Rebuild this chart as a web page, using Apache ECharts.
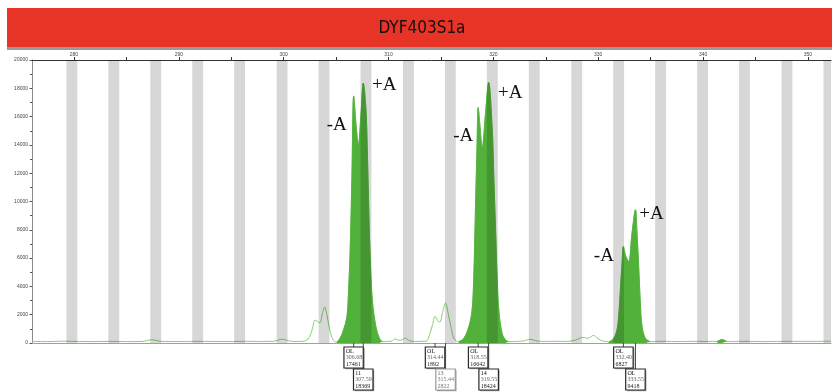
<!DOCTYPE html>
<html>
<head>
<meta charset="utf-8">
<script src="https://cdn.jsdelivr.net/npm/echarts@6/dist/echarts.min.js"></script>
<style>
  html, body { margin: 0; padding: 0; background: #fff; }
  #chart { width: 832px; height: 392px; }
</style>
</head>
<body>
<div id="chart"></div>
<script>
// ---- Electropherogram trace for marker DYF403S1a: [size (bp), signal (RFU)] ----
const noiseStart = [[276.0,120],[277.5,100],[279,130],[280.5,110],[282,100],[283.5,120],[285,100],[286.5,110],[287.4,230],[288.3,120],[290,100],[291.5,120],[293,110],[294.5,100],[296,120],[297.5,110],[299,120],[299.9,270],[300.6,130],[301.5,110]];
const smallPeaksA = [[302.0,140],[302.4,350],[302.7,900],[303.0,1620],[303.2,1520],[303.45,1430],[303.7,2100],[303.9,2540],[304.15,1900],[304.4,900],[304.65,300],[304.85,120]];
const mainPeakA = [[305.08,70],[305.39,350],[305.71,920],[306.03,1840],[306.18,3530],[306.35,6780],[306.51,11730],[306.68,17461],[306.92,15290],[307.12,13990],[307.38,16250],[307.59,18369],[307.85,16470],[308.0,12930],[308.16,8200],[308.33,4660],[308.48,2830],[308.8,1130],[309.12,350],[309.4,90]];
const noiseMid1 = [[309.8,110],[310.3,140],[310.64,290],[311.0,190],[311.3,230],[311.6,340],[312.0,160],[312.6,110],[313.2,120]];
const smallPeaksB = [[313.6,130],[313.95,680],[314.2,1300],[314.44,1892],[314.68,1580],[314.9,1480],[315.15,2150],[315.44,2822],[315.7,2050],[315.95,1150],[316.22,350],[316.5,120]];
const mainPeakB = [[316.7,90],[317.18,330],[317.66,1150],[317.97,2330],[318.13,4690],[318.29,9400],[318.45,14130],[318.55,16642],[318.73,15290],[318.93,13760],[319.25,16230],[319.55,18424],[319.88,15290],[320.04,11750],[320.2,8220],[320.36,4690],[320.52,2330],[320.83,690],[321.16,210],[321.45,90]];
const noiseMid2 = [[322.0,110],[322.8,130],[323.5,260],[324.2,140],[325,110],[326,120],[327,110],[327.8,200],[328.6,400],[329.0,330],[329.56,540],[330.0,300],[330.5,130],[330.9,90]];
const mainPeakC = [[331.0,60],[331.47,330],[331.79,920],[331.95,1860],[332.11,3745],[332.27,5630],[332.40,6827],[332.6,6200],[332.9,5750],[333.22,7750],[333.55,9418],[333.7,7770],[333.86,5390],[334.02,2805],[334.18,1150],[334.5,330],[334.97,90]];
const noiseEnd1 = [[335.5,110],[336.5,120],[337.5,100],[338.5,110],[339.5,120],[340.5,110],[341.0,120]];
const tinyPeak = [[341.35,110],[341.8,240],[342.25,110]];
const noiseEnd2 = [[342.8,110],[344,120],[345.5,100],[347,110],[348.5,120],[350,110],[351.2,120],[352.2,130]];

// ---- Called peaks (size, height, allele call) ----
const calledSizes   = [306.68, 307.59, 314.44, 315.44, 318.55, 319.55, 332.40, 333.55];
const calledHeights = [17461, 18369, 1892, 2822, 16642, 18424, 6827, 9418];
const calledAlleles = ['OL', '11', 'OL', '13', 'OL', '14', 'OL', 'OL'];

// ---- -A / +A adenylation labels, by called-peak index ----
const adenylationPeaks = [0, 1, 4, 5, 6, 7];
const adenylationText  = ['-A', '+A', '-A', '+A', '-A', '+A'];

// ---- Allele bin centres (bp) ----
const binCenters = [279.8, 283.8, 287.8, 291.8, 295.8, 299.85, 303.85, 307.85, 311.9, 315.9, 319.9, 323.9, 327.95, 331.95, 335.95, 339.95, 343.95, 348.0, 352.0];

// ---- Axis ticks ----
const sizeLabels = [280, 290, 300, 310, 320, 330, 340, 350];
const sizeTicks  = [280, 285, 290, 295, 300, 305, 310, 315, 320, 325, 330, 335, 340, 345, 350];

const X_MIN = 276, X_MAX = 352.2, Y_MAX = 20000;
const BIN_HALF = 0.52;

const trace = [].concat(noiseStart, smallPeaksA, mainPeakA, noiseMid1, smallPeaksB, mainPeakB, noiseMid2, mainPeakC, noiseEnd1, tinyPeak, noiseEnd2);
const filledPeaks = [mainPeakA, mainPeakB, mainPeakC, tinyPeak];

const FILL = '#52b13a';
const labelShift = [[-17, 29], [21, 2], [-15, 28.5], [21.5, 11], [-19.5, 9.5], [16, 4.5]];
const boxEdge = ['#2a2a2a', '#2a2a2a', '#2a2a2a', '#9a9a9a', '#2a2a2a', '#2a2a2a', '#2a2a2a', '#2a2a2a'];

const chart = echarts.init(document.getElementById('chart'));

const series = [
  {
    type: 'line', data: trace, smooth: 0.35, symbol: 'none',
    lineStyle: { color: '#86cf72', width: 1 }, z: 2, silent: true
  }
];
filledPeaks.forEach(function (pk) {
  series.push({
    type: 'line', data: pk, smooth: 0.35, symbol: 'none',
    lineStyle: { color: FILL, width: 0.8 },
    areaStyle: { color: FILL, opacity: 1 }, z: 3, silent: true
  });
});

// allele bins drawn as translucent grey stripes over the trace
series.push({
  type: 'custom', z: 5, silent: true,
  data: binCenters.map(function (c) { return [c, 0]; }),
  encode: { x: 0, y: 1 },
  renderItem: function (params, api) {
    const c = api.value(0);
    const p0 = api.coord([c - BIN_HALF, Y_MAX]);
    const p1 = api.coord([c + BIN_HALF, 0]);
    const cs = params.coordSys;
    const shape = echarts.graphic.clipRectByRect(
      { x: p0[0], y: p0[1], width: p1[0] - p0[0], height: p1[1] - p0[1] },
      { x: cs.x, y: cs.y, width: cs.width, height: cs.height }
    );
    if (!shape) return null;
    return { type: 'rect', shape: shape, style: { fill: 'rgba(0,0,0,0.155)' } };
  }
});

// -A / +A labels
series.push({
  type: 'custom', z: 6, silent: true, clip: false,
  data: adenylationPeaks.map(function (i) { return [calledSizes[i], calledHeights[i]]; }),
  encode: { x: 0, y: 1 },
  renderItem: function (params, api) {
    const p = api.coord([api.value(0), api.value(1)]);
    const d = labelShift[params.dataIndex];
    return {
      type: 'text', x: p[0] + d[0], y: p[1] + d[1],
      style: {
        text: adenylationText[params.dataIndex],
        font: '19px "Liberation Serif", serif', fill: '#111',
        align: 'center', verticalAlign: 'middle', textAlign: 'center', textVerticalAlign: 'middle'
      }
    };
  }
});

// peak call boxes under the size axis
series.push({
  type: 'custom', z: 7, silent: true, clip: false,
  data: calledSizes.map(function (s, i) { return [s, calledHeights[i]]; }),
  encode: { x: 0, y: 1 },
  renderItem: function (params, api) {
    const i = params.dataIndex;
    const base = api.coord([api.value(0), 0]);
    const x = base[0], y0 = base[1];
    const w = 19.5, h = 21;
    const top = y0 + 4 + (i % 2) * 22;
    const left = x - w / 2;
    const lines = [calledAlleles[i], calledSizes[i].toFixed(2), String(calledHeights[i])];
    const colors = i === 3 ? ['#666', '#777', '#777'] : ['#111', '#666', '#222'];
    const children = [
      { type: 'line', shape: { x1: x, y1: y0, x2: x, y2: top }, style: { stroke: '#444', lineWidth: 1 } },
      { type: 'rect', shape: { x: left + 1.2, y: top + 1.2, width: w, height: h }, style: { fill: '#9a9a9a' } },
      { type: 'rect', shape: { x: left, y: top, width: w, height: h }, style: { fill: '#fff', stroke: boxEdge[i], lineWidth: 1.2 } }
    ];
    lines.forEach(function (t, k) {
      children.push({
        type: 'text', x: left + 1.8, y: top + 4 + k * 6.7,
        style: { text: t, font: '6px "Liberation Serif", serif', fill: colors[k], align: 'left', verticalAlign: 'middle', textAlign: 'left', textVerticalAlign: 'middle' }
      });
    });
    return { type: 'group', children: children };
  }
});

chart.setOption({
  animation: false,
  backgroundColor: '#fff',
  graphic: [
    { type: 'rect', shape: { x: 7, y: 8, width: 825, height: 39 }, style: { fill: '#e83427' } },
    { type: 'rect', shape: { x: 7, y: 47, width: 825, height: 3 }, style: { fill: '#9a9a9a' } },
    {
      type: 'text', x: 422, y: 29,
      style: { text: 'DYF403S1a', font: '17px "DejaVu Sans Condensed", "DejaVu Sans", sans-serif', fill: '#111', align: 'center', verticalAlign: 'middle', textAlign: 'center', textVerticalAlign: 'middle' }
    }
  ],
  grid: { left: 32, right: 1, top: 60, bottom: 49 },
  xAxis: [
    {
      type: 'value', min: X_MIN, max: X_MAX, position: 'bottom',
      axisLine: { show: true, onZero: false, lineStyle: { color: '#a0a0a0', width: 1 } },
      axisTick: { show: false }, axisLabel: { show: false }, splitLine: { show: false }
    },
    {
      type: 'value', min: X_MIN, max: X_MAX, position: 'top',
      axisLine: { show: true, onZero: false, lineStyle: { color: '#333', width: 1 } },
      axisTick: { show: true, customValues: sizeTicks, length: 3, lineStyle: { color: '#333' } },
      axisLabel: { show: true, customValues: sizeLabels, fontSize: 5, color: '#444', margin: 3, formatter: function (v) { return String(v); } },
      splitLine: { show: false }
    }
  ],
  yAxis: {
    type: 'value', min: 0, max: Y_MAX, interval: 2000,
    axisLine: { show: true, lineStyle: { color: '#8a8a8a' } },
    axisTick: { show: true, length: 2.5, lineStyle: { color: '#555' } },
    minorTick: { show: true, splitNumber: 2, length: 2, lineStyle: { color: '#555' } },
    axisLabel: { fontSize: 5, color: '#444', margin: 4, formatter: function (v) { return String(v); } },
    splitLine: { show: false }
  },
  series: series
});
</script>
</body>
</html>
